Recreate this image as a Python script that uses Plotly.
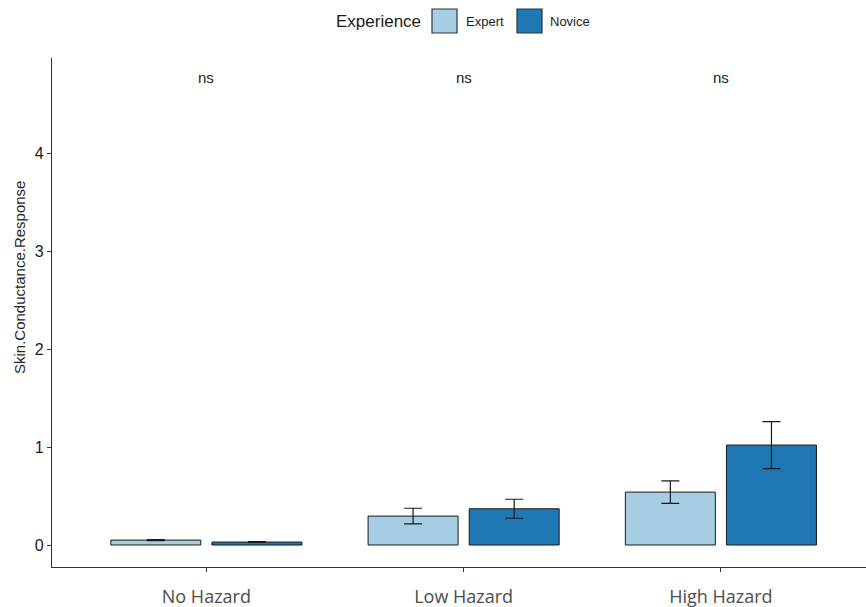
import plotly.graph_objects as go

# Skin conductance response by hazard level and driver experience
categories = ["No Hazard", "Low Hazard", "High Hazard"]
expert_mean = [0.05, 0.295, 0.54]
expert_se = [0.006, 0.08, 0.115]
novice_mean = [0.03, 0.37, 1.02]
novice_se = [0.004, 0.097, 0.24]
sig_labels = ["ns", "ns", "ns"]
sig_y = 4.77
y_ticks = [0, 1, 2, 3, 4]

EXPERT_COLOR = "#A6CEE3"
NOVICE_COLOR = "#1F78B4"
FONT = "Liberation Sans, Arial, sans-serif"

W, H = 866, 607
M = dict(l=52, r=0, t=58, b=40)
PW = W - M["l"] - M["r"]
PH = H - M["t"] - M["b"]

fig = go.Figure()
for name, means, errs, color in [
    ("Expert", expert_mean, expert_se, EXPERT_COLOR),
    ("Novice", novice_mean, novice_se, NOVICE_COLOR),
]:
    fig.add_trace(go.Bar(
        x=categories, y=means, name=name,
        marker=dict(color=color, line=dict(color="#1a1a1a", width=1)),
        error_y=dict(type="data", array=errs, visible=True,
                     color="#1a1a1a", thickness=1.2, width=9),
        showlegend=False,
    ))

# significance labels above each group
for cat, lab in zip(categories, sig_labels):
    fig.add_annotation(x=cat, y=sig_y, xref="x", yref="y", text=lab,
                       showarrow=False, font=dict(family=FONT, size=15, color="#1a1a1a"))

# helpers: page pixel -> paper coordinates
def px_x(p):
    return (p - M["l"]) / PW

def px_y(p):
    return (H - M["b"] - p) / PH

# legend drawn at the top: title, keys and labels
fig.add_annotation(xref="paper", yref="paper", x=px_x(378), y=px_y(21),
                   text="Experience", showarrow=False, xanchor="center", yanchor="middle",
                   font=dict(family=FONT, size=17, color="#1a1a1a"))
for (x0, label, lx, color) in [(432, "Expert", 485, EXPERT_COLOR), (517, "Novice", 570, NOVICE_COLOR)]:
    fig.add_shape(type="rect", xref="paper", yref="paper",
                  x0=px_x(x0), x1=px_x(x0 + 25), y0=px_y(33), y1=px_y(9),
                  fillcolor=color, line=dict(color="#333333", width=1.2), layer="above")
    fig.add_annotation(xref="paper", yref="paper", x=px_x(lx), y=px_y(21),
                       text=label, showarrow=False, xanchor="center", yanchor="middle",
                       font=dict(family=FONT, size=13, color="#1a1a1a"))

# y-axis title
fig.add_annotation(xref="paper", yref="paper", x=px_x(19), y=px_y(278),
                   text="Skin.Conductance.Response", textangle=-90, showarrow=False,
                   xanchor="center", yanchor="middle",
                   font=dict(family=FONT, size=15, color="#262626"))

fig.update_layout(
    width=W, height=H, margin=M,
    paper_bgcolor="white", plot_bgcolor="white",
    barmode="group", bargap=0.214, bargroupgap=0.11,
    font=dict(family=FONT, color="#1a1a1a"),
    xaxis=dict(range=[-0.6, 2.564], showline=True, linecolor="#333333", linewidth=1.3,
               ticks="outside", ticklen=4, tickcolor="#333333", ticklabelstandoff=9,
               tickfont=dict(family="Open Sans, sans-serif", size=18, color="#4d4d4d"),
               showgrid=False, zeroline=False),
    yaxis=dict(range=[-0.2245, 4.97], showline=True, linecolor="#333333", linewidth=1.3,
               tickvals=y_ticks, ticks="outside", ticklen=4, tickcolor="#333333",
               tickfont=dict(family=FONT, size=16, color="#1a1a1a"),
               showgrid=False, zeroline=False),
)

fig.write_html("out.html")
